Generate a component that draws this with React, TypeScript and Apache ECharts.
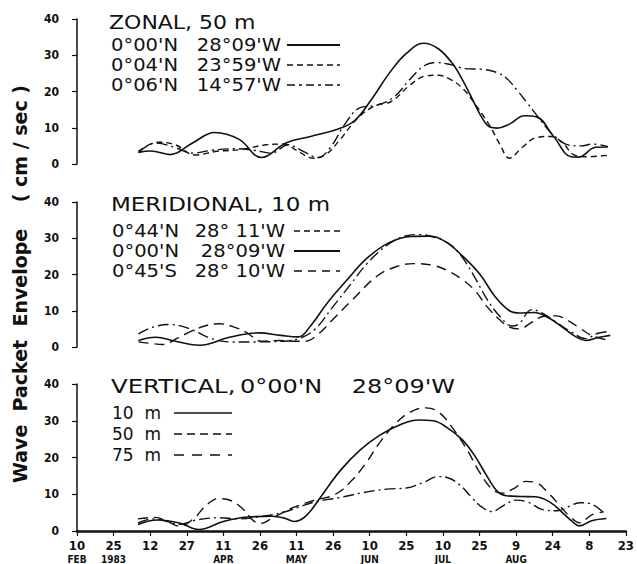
import React, { useEffect, useRef } from "react";
import * as echarts from "echarts";

// x values: days after 10 Feb 1983
const xTickLabels = ["10", "25", "12", "27", "11", "26", "11", "26", "10", "25", "10", "25", "9", "24", "8", "23"];
const monthLabels = ["FEB", "1983", "", "", "APR", "", "MAY", "", "JUN", "", "JUL", "", "AUG", "", "", ""];
const yTicks = [0, 10, 20, 30, 40];

// ZONAL, 50 m
const zonal0000N: [number, number][] = [[25,3.2],[30,3.6],[38,2.6],[47,5.8],[56,8.7],[66,6.8],[75,1.8],[85,5.8],[95,7.6],[106,9.6],[113,12],[120,18],[127,25],[134,30.5],[141,33.3],[147,31.8],[153,27.5],[157,23],[161,17.7],[165,12.5],[168,10.2],[171,9.9],[176,11],[182,13.3],[187,13],[194,7.5],[201,2],[204,1.9],[211,4.6],[216,4.7]];
const zonal0004N: [number, number][] = [[25,3.5],[33,6],[40,5.3],[48,2.5],[57,3.5],[67,4],[77,5.3],[84,5.5],[90,3.5],[96,1.6],[101,2.5],[107,6.7],[114,12.5],[121,16],[128,17.3],[135,21.5],[142,24.3],[147,24.5],[152,23.3],[157,20.8],[162,16.5],[168,10.5],[172,5.5],[176,1.6],[181,4.5],[187,7.3],[193,7.6],[198,5.5],[202,2.6],[207,2],[216,2.4]];
const zonal0006N: [number, number][] = [[25,3.2],[32,5.8],[40,4.5],[47,3],[55,3.8],[65,4.2],[72,3.8],[79,3],[86,5.3],[92,3.5],[98,1.8],[103,4.5],[109,11],[115,15.5],[122,16.2],[129,18.5],[135,23],[141,27],[146,28],[152,27.4],[158,26.3],[165,26.1],[171,25.2],[175,23.5],[179,20.4],[183,17],[187,13.5],[191,10],[195,7.3],[200,5.2],[205,5],[210,5.5],[216,4.8]];

// MERIDIONAL, 10 m
const merid0044N: [number, number][] = [[25,3.6],[31,5.5],[38,6.2],[46,5],[54,2.5],[62,1.4],[72,1.4],[84,1.6],[91,2.5],[97,5],[104,11],[111,17],[118,23],[126,28],[133,30.5],[139,31],[146,30.2],[152,28.2],[157,24.5],[162,19],[167,13],[172,8.5],[177,5.8],[180,6.5],[185,10.3],[189,9.5],[195,6.8],[201,4.2],[207,2.3],[212,3.8],[217,4.3]];
const merid0000N: [number, number][] = [[25,1.8],[32,2.7],[40,1.6],[50,0.5],[62,2.7],[74,3.9],[83,3.2],[90,2.8],[95,5.8],[102,12.3],[110,18.6],[118,24.5],[127,28.8],[136,30.5],[143,30.6],[150,29],[157,25],[164,20],[170,14],[176,10],[180,9.4],[186,9.5],[192,8],[198,5.2],[203,2.8],[207,1.8],[212,2.6],[217,3.2]];
const merid0045S: [number, number][] = [[25,1.4],[30,1],[35,0.7],[41,2.5],[47,4.5],[53,6],[58,6.4],[64,5.5],[69,4],[75,1.6],[82,1.8],[88,1.6],[93,1.6],[98,3.5],[104,7.5],[112,13],[122,19.5],[130,22.2],[137,23],[145,22.5],[151,21],[157,18.5],[162,15.5],[167,11],[172,7.5],[176,5.5],[180,5],[185,6.8],[190,8.5],[195,8.6],[200,7.2],[205,5],[210,3],[217,1.8]];

// VERTICAL, 0°00'N 28°09'W
const vert10m: [number, number][] = [[25,1.8],[33,3],[42,2.2],[50,0.4],[60,2.6],[70,3.8],[80,4],[85,3.5],[89,2.6],[94,4.2],[101,10.3],[108,16.5],[116,22],[124,26],[132,28.8],[140,30.2],[146,30],[152,28],[158,24.8],[163,20.5],[168,15],[172,11],[176,9.6],[182,9.4],[188,9.3],[194,7.8],[199,5],[203,2.6],[206,1.4],[211,2.8],[217,3.4]];
const vert50m: [number, number][] = [[25,3.3],[32,3.7],[37,2.6],[42,1.3],[48,3.5],[53,7],[58,8.8],[63,8.3],[68,6],[72,3],[75,2],[80,3.5],[88,6.2],[97,8.3],[106,10],[113,14],[119,19],[124,24],[131,29.5],[137,32.5],[143,33.5],[148,32.5],[154,28],[160,22],[165,16],[170,11.5],[174,10.3],[179,11.5],[184,13.5],[188,13.2],[193,10.5],[198,6.8],[202,4],[206,2.2],[211,4.4],[216,5.2]];
const vert75m: [number, number][] = [[25,2.2],[31,3.3],[37,2.6],[42,1.8],[49,3],[58,3.6],[66,3.3],[76,4],[84,5],[91,6.5],[98,8],[107,9],[117,10.4],[127,11.4],[135,11.7],[142,13.2],[148,14.8],[152,14.5],[157,12.5],[162,9],[166,6.5],[170,5.3],[175,7],[180,8.4],[185,7.8],[191,5.8],[197,5.5],[202,6.8],[206,7.7],[210,7.5],[216,4.9]];

const INK = "#111";
const TICK_FONT = '"DejaVu Sans Condensed", "Liberation Sans Narrow", sans-serif';
const TEXT_FONT = '"DejaVu Sans", sans-serif';

const SOLID = "solid";
const SHORT_DASH = [6, 4];
const LONG_DASH = [10, 6];
const DASH_DOT = [11, 4, 2, 4];

function App() {
  const ref = useRef<HTMLDivElement>(null);
  useEffect(() => {
    if (!ref.current) return;
    const chart = echarts.init(ref.current, undefined, { renderer: "svg" });

    const grids = [
      { left: 77, right: 7, top: 19, height: 145 },
      { left: 77, right: 7, top: 202, height: 145 },
      { left: 77, right: 7, top: 384, height: 147 },
    ];

    const xAxes = grids.map((_, i) => ({
      type: "value",
      gridIndex: i,
      min: 0,
      max: 225,
      interval: 15,
      show: i === 2,
      splitLine: { show: false },
      axisLine: { show: i === 2, onZero: false, lineStyle: { color: INK, width: 2.5 } },
      axisTick: { show: i === 2, length: 5, lineStyle: { color: INK, width: 1.2 } },
      axisLabel: {
        show: i === 2,
        margin: 6,
        color: INK,
        formatter: (v: number) => {
          const k = Math.round(v / 15);
          const d = xTickLabels[k] ?? "";
          const m = monthLabels[k];
          return m ? `{d|${d}}\n{m|${m}}` : `{d|${d}}`;
        },
        rich: {
          d: { fontFamily: TICK_FONT, fontWeight: "bold", fontSize: 13, lineHeight: 16, color: INK },
          m: { fontFamily: TICK_FONT, fontWeight: "bold", fontSize: 10, lineHeight: 12, color: INK },
        },
      },
    }));

    const yAxes = grids.map((_, i) => ({
      type: "value",
      gridIndex: i,
      min: 0,
      max: 40,
      interval: 10,
      splitLine: { show: false },
      axisLine: { show: true, lineStyle: { color: INK, width: 1.5 } },
      axisTick: { show: true, length: 5, lineStyle: { color: INK, width: 1.2 } },
      axisLabel: {
        margin: 18,
        color: INK,
        fontFamily: TICK_FONT,
        fontWeight: "bold",
        fontSize: 12,
        formatter: (v: number) => (yTicks.includes(v) ? String(v) : ""),
      },
    }));

    const mk = (data: [number, number][], idx: number, type: any, width = 1.4) => ({
      type: "line",
      xAxisIndex: idx,
      yAxisIndex: idx,
      data,
      smooth: 0.4,
      showSymbol: false,
      symbol: "none",
      lineStyle: { color: INK, width, type },
    });

    const series = [
      mk(zonal0000N, 0, SOLID, 1.6),
      mk(zonal0004N, 0, SHORT_DASH),
      mk(zonal0006N, 0, DASH_DOT),
      mk(merid0044N, 1, DASH_DOT),
      mk(merid0000N, 1, SOLID, 1.6),
      mk(merid0045S, 1, LONG_DASH),
      mk(vert10m, 2, SOLID, 1.6),
      mk(vert50m, 2, LONG_DASH),
      mk(vert75m, 2, DASH_DOT),
    ];

    const txt = (text: string, x: number, y: number, size: number, align = "left", sx = 1.15) => ({
      type: "text",
      x,
      y,
      scaleX: sx,
      style: {
        text,
        fill: INK,
        fontFamily: TEXT_FONT,
        fontSize: size,
        align,
        verticalAlign: "middle",
        textAlign: align,
        textVerticalAlign: "middle",
      },
    });
    const lgLine = (x1: number, x2: number, y: number, dash: any, width = 1.5) => ({
      type: "line",
      shape: { x1, y1: y, x2, y2: y },
      style: { stroke: INK, lineWidth: width, lineDash: dash === SOLID ? null : dash },
    });

    const graphic = [
      {
        type: "text",
        x: 20,
        y: 284,
        rotation: Math.PI / 2,
        style: {
          text: "Wave  Packet  Envelope    ( cm / sec )",
          fill: INK,
          fontFamily: TEXT_FONT,
          fontSize: 19,
          fontWeight: "bold",
          align: "center",
          verticalAlign: "middle",
          textAlign: "center",
          textVerticalAlign: "middle",
        },
      },
      // panel 1
      txt("ZONAL, 50 m", 109, 22, 20, "left", 1.1),
      txt("0°00'N", 111, 45, 17),
      txt("28°09'W", 281, 45, 17, "right"),
      lgLine(287, 340, 45, SOLID, 1.8),
      txt("0°04'N", 111, 65, 17),
      txt("23°59'W", 281, 65, 17, "right"),
      lgLine(287, 340, 65, [6, 4]),
      txt("0°06'N", 111, 85, 17),
      txt("14°57'W", 281, 85, 17, "right"),
      lgLine(287, 340, 85, [8, 4, 3, 4]),
      // panel 2
      txt("MERIDIONAL, 10 m", 111, 204, 20),
      txt("0°44'N", 112, 231, 17),
      txt("28° 11'W", 285, 231, 17, "right"),
      lgLine(294, 340, 231, [6, 4]),
      txt("0°00'N", 112, 251, 17),
      txt("28°09'W", 285, 251, 17, "right"),
      lgLine(294, 340, 251, SOLID, 1.8),
      txt("0°45'S", 112, 271, 17),
      txt("28° 10'W", 285, 271, 17, "right"),
      lgLine(294, 340, 271, [8, 6]),
      // panel 3
      txt("VERTICAL,", 111, 386, 20, "left", 1.22),
      txt("0°00'N", 240, 386, 20, "left", 1.2),
      txt("28°09'W", 455, 386, 20, "right", 1.2),
      txt("10  m", 112, 413, 17, "left", 1),
      lgLine(174, 232, 413, SOLID, 1.5),
      txt("50  m", 112, 434, 17, "left", 1),
      lgLine(174, 232, 434, [8, 5]),
      txt("75  m", 112, 455, 17, "left", 1),
      lgLine(174, 232, 455, [10, 8]),
    ];

    chart.setOption({
      animation: false,
      backgroundColor: "#fff",
      grid: grids,
      xAxis: xAxes,
      yAxis: yAxes,
      series,
      graphic,
    });
    return () => chart.dispose();
  }, []);
  return (
    <div
      ref={ref}
      style={{ position: "absolute", left: 0, top: 0, width: 637, height: 564 }}
    />
  );
}

export default App;
